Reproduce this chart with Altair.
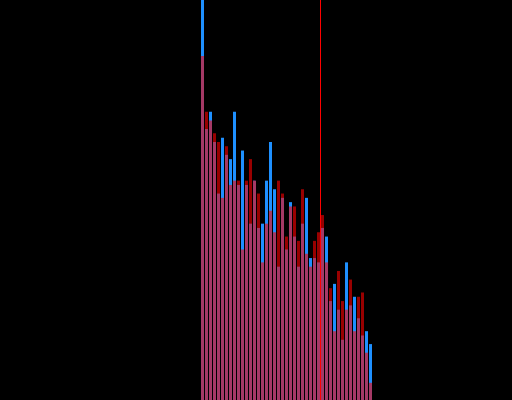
import altair as alt
import pandas as pd

# Histogram counts per bin for the two overlaid samples
blue_counts = [93, 63, 67, 60, 48, 61, 57, 56, 67, 50, 58, 50, 41, 51, 40, 41, 51, 60,
               49, 31, 47, 35, 46, 38, 31, 41, 47, 33, 33, 32, 40, 38, 23, 27, 21, 14,
               32, 22, 24, 19, 15, 16, 13]
red_counts = [80, 67, 65, 62, 60, 47, 59, 50, 51, 51, 35, 51, 56, 51, 48, 32, 41, 44,
              39, 51, 48, 38, 45, 45, 37, 49, 34, 31, 37, 39, 43, 32, 26, 16, 30, 23,
              21, 28, 16, 24, 25, 11, 4]

# Bin layout and the marker value
first_edge = 50.25
bin_width = 1.0
marker = 80.0
x_domain = [0, 128]
y_domain = [0, 93]

n = len(blue_counts)
lo = [first_edge + i * bin_width for i in range(n)]
hi = [v + bin_width for v in lo]

df = pd.DataFrame({"lo": lo, "hi": hi, "blue": blue_counts, "red": red_counts})

xs = alt.Scale(domain=x_domain, nice=False, zero=False)
ys = alt.Scale(domain=y_domain, nice=False)

blue_bars = alt.Chart(df).mark_bar(color="#1e90ff", x2Offset=-1, clip=True).encode(
    x=alt.X("lo:Q", scale=xs, axis=None),
    x2="hi:Q",
    y=alt.Y("blue:Q", scale=ys, axis=None),
    y2=alt.datum(0),
)

red_bars = alt.Chart(df).mark_bar(color="#ff0000", opacity=0.6, x2Offset=-1, clip=True).encode(
    x=alt.X("lo:Q", scale=xs, axis=None),
    x2="hi:Q",
    y=alt.Y("red:Q", scale=ys, axis=None),
    y2=alt.datum(0),
)

# Vertical marker, shifted half a pixel so it lands on a single crisp column
marker_line = alt.Chart(pd.DataFrame({"m": [marker]})).mark_rule(
    stroke="#ff0000", strokeWidth=1, strokeOpacity=1, opacity=1, xOffset=0.5
).encode(x=alt.X("m:Q", scale=xs, axis=None))

chart = (
    alt.layer(blue_bars, red_bars, marker_line)
    .properties(width=512, height=400, background="black", padding=0,
                autosize=alt.AutoSizeParams(type="none"))
    .configure_view(stroke=None, fill="black")
)

chart.save("out.html", embed_options={"renderer": "svg", "actions": False})
